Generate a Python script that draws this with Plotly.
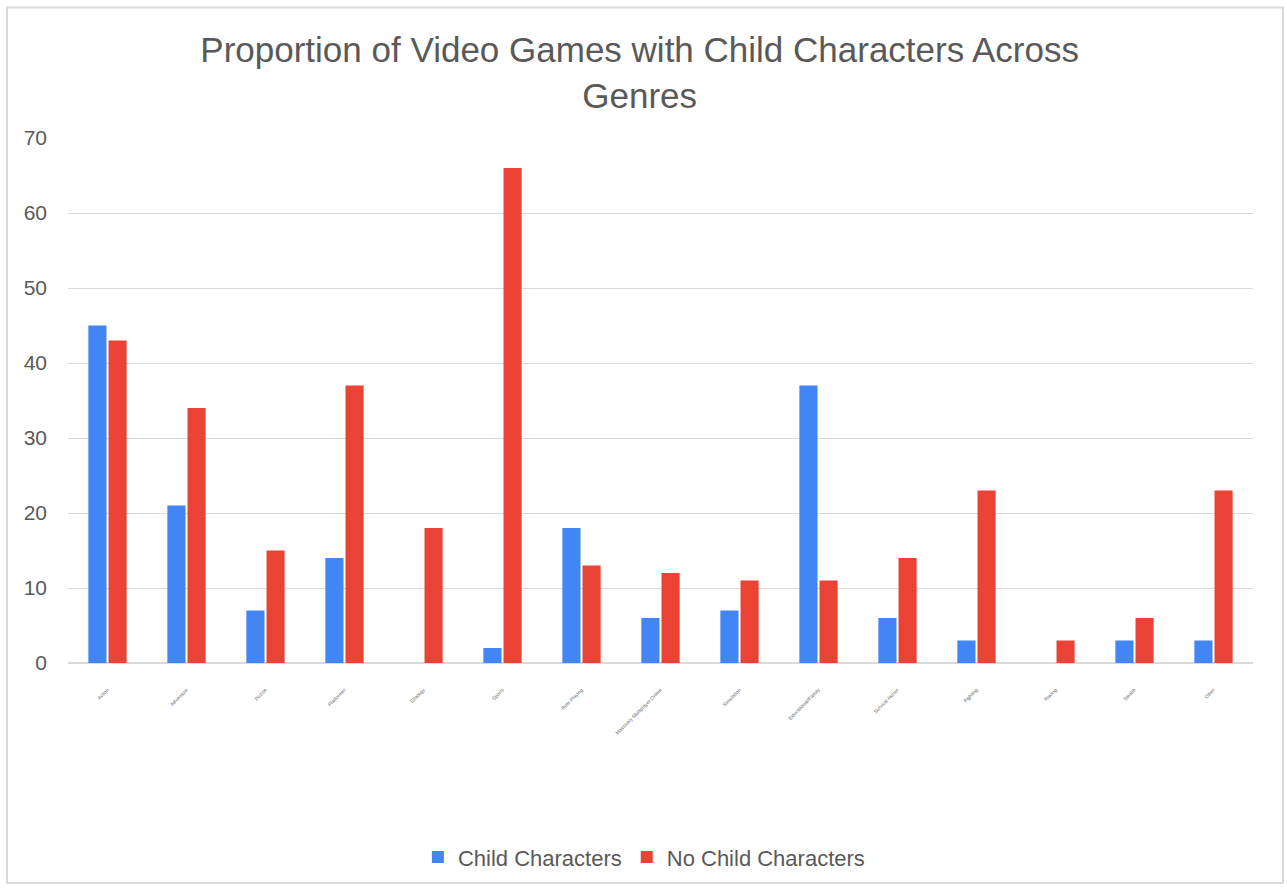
import plotly.graph_objects as go

# Genre categories and counts per group
genres = [
    "Action", "Adventure", "Puzzle", "Platformer", "Strategy", "Sports",
    "Role-Playing", "Massively Multiplayer Online", "Simulation",
    "Educational/Family", "Survival Horror", "Fighting", "Racing",
    "Stealth", "Other",
]
child_chars = [45, 21, 7, 14, 0, 2, 18, 6, 7, 37, 6, 3, 0, 3, 3]
no_child_chars = [43, 34, 15, 37, 18, 66, 13, 12, 11, 11, 14, 23, 3, 6, 23]

y_ticks = [0, 10, 20, 30, 40, 50, 60, 70]

TEXT = "#595959"
GRID = "#d9d9d9"

fig = go.Figure()
fig.add_trace(go.Bar(name="Child Characters", x=genres, y=child_chars,
                     marker=dict(color="#4285F4", line=dict(width=0))))
fig.add_trace(go.Bar(name="No Child Characters", x=genres, y=no_child_chars,
                     marker=dict(color="#EA4335", line=dict(width=0))))

fig.update_layout(
    width=1287, height=890,
    margin=dict(l=68, r=34, t=138, b=225),
    paper_bgcolor="white", plot_bgcolor="white",
    barmode="group", bargap=0.49, bargroupgap=0.1,
    font=dict(family="Liberation Sans, Arial, sans-serif", color=TEXT),
    title=dict(
        text="Proportion of Video Games with Child Characters Across<br>Genres",
        x=0.497, xref="container", xanchor="center",
        y=0.93, yref="container", yanchor="top",
        font=dict(size=35, color=TEXT),
    ),
    xaxis=dict(
        tickangle=-45, tickfont=dict(size=5, color="#666666"),
        ticklabelstandoff=22,
        showgrid=False, showline=False, ticks="", zeroline=False,
    ),
    yaxis=dict(
        range=[0, 70], tickvals=y_ticks, showgrid=True, gridcolor=GRID,
        gridwidth=1, zeroline=True, zerolinecolor=GRID, zerolinewidth=2,
        tickfont=dict(size=21, color=TEXT), ticklabelstandoff=20,
        showline=False,
    ),
    legend=dict(
        orientation="h", x=0.486, xanchor="center", y=-0.37, yanchor="middle",
        font=dict(size=22, color=TEXT), itemsizing="constant", itemwidth=30,
    ),
    showlegend=True,
    shapes=[dict(
        type="rect", xref="paper", yref="paper",
        x0=-0.0515, x1=1.0253, y0=-0.419, y1=1.2486,
        line=dict(color=GRID, width=2), fillcolor="rgba(0,0,0,0)", layer="below",
    )],
)

fig.write_html("out.html")
